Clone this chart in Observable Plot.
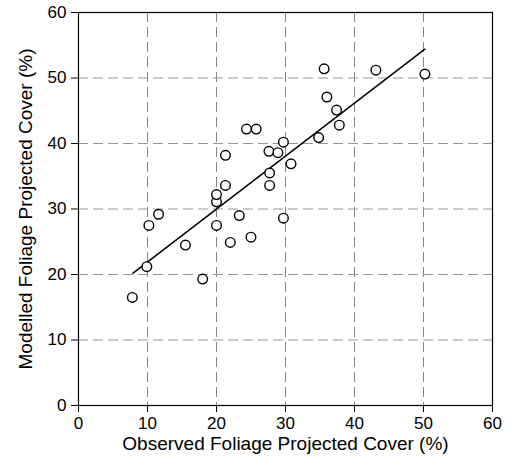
<!DOCTYPE html>
<html>
<head>
<meta charset="utf-8">
<script src="https://cdn.jsdelivr.net/npm/d3@7"></script>
<script src="https://cdn.jsdelivr.net/npm/@observablehq/plot@0.6"></script>
<style>
  html, body { margin: 0; padding: 0; background: #fff; }
</style>
</head>
<body>
<div id="chart"></div>
<script>
// Observed vs modelled foliage projected cover (%)
const observed = [7.8, 9.9, 10.2, 11.6, 15.5, 18.0, 20.0, 20.0, 20.0, 21.3, 21.3, 22.0, 23.3, 24.35, 25.75,
  25.0, 27.6, 27.7, 27.7, 28.9, 29.7, 29.7, 30.8, 34.8, 35.6, 36.0, 37.4, 37.8, 43.1, 50.2];
const modelled = [16.5, 21.2, 27.5, 29.2, 24.5, 19.3, 27.5, 31.1, 32.2, 33.6, 38.2, 24.9, 29.0, 42.2, 42.2,
  25.7, 38.8, 35.5, 33.6, 38.6, 40.2, 28.6, 36.9, 40.9, 51.4, 47.1, 45.1, 42.8, 51.2, 50.6];
// Fitted regression line endpoints
const fitX = [7.9, 50.2];
const fitY = [20.2, 54.4];
const tickValues = [0, 10, 20, 30, 40, 50, 60];
const xTitle = "Observed Foliage Projected Cover (%)";
const yTitle = "Modelled Foliage Projected Cover (%)";

const points = observed.map((x, i) => ({x, y: modelled[i]}));
const fit = fitX.map((x, i) => ({x, y: fitY[i]}));

const chart = Plot.plot({
  width: 511,
  height: 461,
  marginLeft: 78,
  marginRight: 19,
  marginTop: 12,
  marginBottom: 56,
  style: {fontFamily: "'Liberation Sans', Arial, Helvetica, sans-serif", fontSize: "17px", color: "#000", background: "#fff"},
  x: {domain: [0, 60]},
  y: {domain: [0, 60]},
  marks: [
    Plot.gridX(tickValues.slice(1, -1), {stroke: "#858585", strokeOpacity: 1, strokeDasharray: "10,5"}),
    Plot.gridY(tickValues.slice(1, -1), {stroke: "#959595", strokeOpacity: 1, strokeDasharray: "10,5"}),
    Plot.axisX({ticks: tickValues, tickSize: 7, tickPadding: 4, fontSize: 17, label: null, stroke: "#000"}),
    Plot.axisY({ticks: tickValues, tickSize: 7, tickPadding: 5, fontSize: 17, label: null, stroke: "#000"}),
    Plot.frame({stroke: "#000", strokeWidth: 1.2}),
    Plot.line(fit, {x: "x", y: "y", stroke: "#000", strokeWidth: 1.5}),
    Plot.dot(points, {x: "x", y: "y", r: 4.8, stroke: "#000", fill: "#fff", strokeWidth: 1.4}),
    Plot.text([xTitle], {text: d => d, frameAnchor: "bottom", textAnchor: "middle", dy: 44, fontSize: 19, fill: "#000"}),
    Plot.text([yTitle], {text: d => d, frameAnchor: "left", textAnchor: "middle", dx: -53, rotate: -90, fontSize: 19, fill: "#000"})
  ]
});
document.getElementById("chart").appendChild(chart);
</script>
</body>
</html>
